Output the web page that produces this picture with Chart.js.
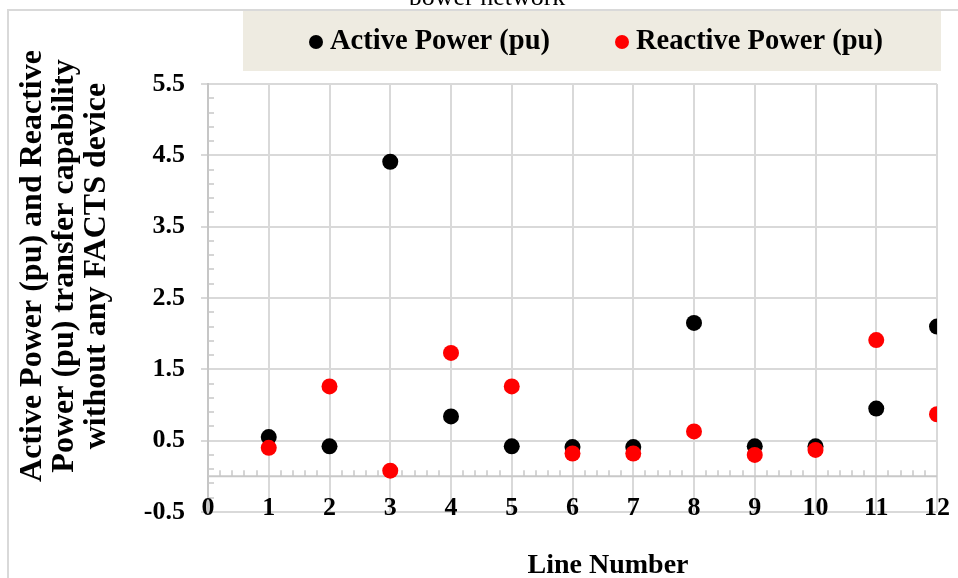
<!DOCTYPE html>
<html>
<head>
<meta charset="utf-8">
<title>Active and reactive power per line</title>
<script src="https://cdn.jsdelivr.net/npm/chart.js@4/dist/chart.umd.min.js"></script>
<style>
  html, body { margin: 0; padding: 0; background: #fff; }
  #powerChart { display: block; }
</style>
</head>
<body>
<canvas id="powerChart" width="958" height="578"></canvas>
<script>
// ---------------------------------------------------------------
// Line transfer capability (pu) without any FACTS device
// ---------------------------------------------------------------
const lineNumbers = [1, 2, 3, 4, 5, 6, 7, 8, 9, 10, 11, 12];
const activePower = [0.55, 0.42, 4.41, 0.84, 0.42, 0.41, 0.41, 2.15, 0.42, 0.42, 0.95, 2.10];
const reactivePower = [0.40, 1.26, 0.08, 1.73, 1.26, 0.32, 0.32, 0.63, 0.30, 0.37, 1.91, 0.87];
const yTickValues = [-0.5, 0.5, 1.5, 2.5, 3.5, 4.5, 5.5];
const seriesNames = ['Active Power (pu)', 'Reactive Power (pu)'];
const seriesColors = ['#000000', '#ff0000'];
const yTitleLines = ['Active Power (pu) and Reactive', 'Power (pu) transfer capability', 'without any FACTS device'];
const xTitle = 'Line Number';
const chartTitle = 'power network';

const serif = "'Liberation Serif', 'Times New Roman', serif";
const gridGrey = '#d9d9d9';

function toPoints(values) {
  return values.map((v, i) => ({ x: lineNumbers[i], y: v }));
}

// frame, legend box, axis through zero with minor ticks, titles
const decorations = {
  id: 'decorations',
  beforeDraw(chart) {
    const ctx = chart.ctx;
    ctx.save();
    ctx.fillStyle = '#fff';
    ctx.fillRect(0, 0, chart.width, chart.height);
    // title sits above the frame, only its lower part shows
    ctx.beginPath();
    ctx.rect(0, 0, chart.width, 5);
    ctx.clip();
    ctx.font = '26px ' + serif;
    ctx.fillStyle = '#000';
    ctx.textAlign = 'center';
    ctx.textBaseline = 'alphabetic';
    ctx.fillText(chartTitle, 487, 5);
    ctx.restore();

    ctx.save();
    ctx.strokeStyle = gridGrey;
    ctx.lineWidth = 2;
    ctx.beginPath();
    ctx.moveTo(8, chart.height);
    ctx.lineTo(8, 10);
    ctx.lineTo(chart.width, 10);
    ctx.stroke();
    ctx.fillStyle = '#eeebe1';
    ctx.fillRect(243, 11, 698, 60);
    ctx.restore();
  },
  beforeDatasetsDraw(chart) {
    const { ctx, scales: { x, y } } = chart;
    const y0 = y.getPixelForValue(0);
    const x0 = x.getPixelForValue(0);
    ctx.save();
    ctx.strokeStyle = '#c8c8c8';
    ctx.lineWidth = 2;
    ctx.beginPath();
    ctx.moveTo(x.left, y0);
    ctx.lineTo(x.right, y0);
    ctx.stroke();
    ctx.lineWidth = 1.5;
    ctx.beginPath();
    for (let k = 1; k < 60; k++) {
      if (k % 5 === 0) continue;
      const px = Math.round(x.getPixelForValue(k / 5));
      ctx.moveTo(px, y0);
      ctx.lineTo(px, y0 - 6);
    }
    for (let k = 1; k < 30; k++) {
      if (k % 5 === 0) continue;
      const py = Math.round(y.getPixelForValue(-0.5 + k / 5));
      ctx.moveTo(x0, py);
      ctx.lineTo(x0 + 6, py);
    }
    ctx.stroke();
    ctx.restore();
  },
  afterDraw(chart) {
    const { ctx, scales: { x } } = chart;
    ctx.save();
    ctx.fillStyle = '#000';

    // x tick labels sit just above the bottom gridline
    ctx.font = 'bold 26px ' + serif;
    ctx.textAlign = 'center';
    ctx.textBaseline = 'middle';
    x.ticks.forEach(t => {
      ctx.fillText(String(t.value), x.getPixelForValue(t.value), x.top - 4);
    });

    // legend
    ctx.font = 'bold 28.5px ' + serif;
    ctx.textAlign = 'left';
    const legendX = [316, 622];
    seriesNames.forEach((name, i) => {
      ctx.fillStyle = seriesColors[i];
      ctx.beginPath();
      ctx.arc(legendX[i], 42, 7, 0, Math.PI * 2);
      ctx.fill();
      ctx.fillStyle = '#000';
      ctx.fillText(name, legendX[i] + 14, 42);
    });

    // x axis title
    ctx.font = 'bold 28px ' + serif;
    ctx.textAlign = 'center';
    ctx.textBaseline = 'alphabetic';
    ctx.fillText(xTitle, 608, 573);

    // y axis title, three rotated lines
    ctx.font = 'bold 32px ' + serif;
    ctx.textBaseline = 'middle';
    yTitleLines.forEach((line, i) => {
      ctx.save();
      ctx.translate(33 + i * 32, 266);
      ctx.rotate(-Math.PI / 2);
      ctx.fillText(line, 0, 0);
      ctx.restore();
    });
    ctx.restore();
  }
};

const tickFont = { family: serif, size: 26, weight: 'bold' };

new Chart(document.getElementById('powerChart'), {
  type: 'scatter',
  data: {
    datasets: [
      { label: seriesNames[0], data: toPoints(activePower), backgroundColor: seriesColors[0], order: 1 },
      { label: seriesNames[1], data: toPoints(reactivePower), backgroundColor: seriesColors[1], order: 0 }
    ]
  },
  options: {
    responsive: false,
    animation: false,
    devicePixelRatio: 1,
    events: [],
    layout: { padding: { top: 84, right: 21, left: 0, bottom: 0 } },
    elements: { point: { radius: 8, hoverRadius: 8, borderWidth: 0 } },
    plugins: { legend: { display: false }, tooltip: { enabled: false } },
    scales: {
      x: {
        type: 'linear',
        min: 0,
        max: 12,
        ticks: { stepSize: 1, display: false },
        grid: { color: gridGrey, lineWidth: 2, drawTicks: false },
        border: { display: false },
        afterFit(s) { s.height = 66; }
      },
      y: {
        type: 'linear',
        min: -0.5,
        max: 5.5,
        afterBuildTicks(s) { s.ticks = yTickValues.map(v => ({ value: v })); },
        ticks: { callback: v => v.toFixed(1), padding: 16, font: tickFont, color: '#000' },
        grid: { color: gridGrey, lineWidth: 2, tickLength: 7 },
        border: { color: '#c6c6c6', width: 2 },
        afterFit(s) { s.width = 208; }
      }
    }
  },
  plugins: [decorations]
});
</script>
</body>
</html>
